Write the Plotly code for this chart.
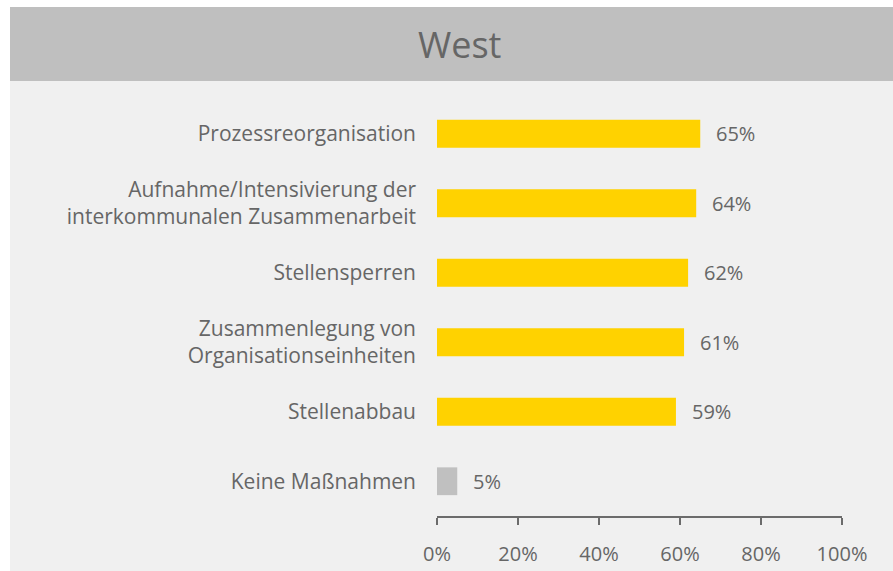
import plotly.graph_objects as go

# Survey results: measures taken (share of municipalities, region West)
categories = [
    "Prozessreorganisation",
    "Aufnahme/Intensivierung der<br>interkommunalen Zusammenarbeit",
    "Stellensperren",
    "Zusammenlegung von<br>Organisationseinheiten",
    "Stellenabbau",
    "Keine Maßnahmen",
]
values = [65, 64, 62, 61, 59, 5]
bar_colors = ["#FFD200", "#FFD200", "#FFD200", "#FFD200", "#FFD200", "#C0C0C0"]
x_ticks = [0, 20, 40, 60, 80, 100]
x_tick_labels = ["0%", "20%", "40%", "60%", "80%", "100%"]
title_text = "West"

W, H = 893, 571
M_L, M_R, M_T, M_B = 437, 51, 99, 55
FONT = "Open Sans"
TEXT = "#666666"

fig = go.Figure(
    go.Bar(
        x=values,
        y=categories,
        orientation="h",
        marker=dict(color=bar_colors, line=dict(width=0)),
        width=0.4,
        hoverinfo="skip",
    )
)

# value labels right of each bar
for c, v in zip(categories, values):
    fig.add_annotation(
        x=v, y=c, xref="x", yref="y",
        text=f"{v}%", showarrow=False,
        xanchor="left", xshift=14,
        font=dict(family=FONT, size=20, color=TEXT),
    )

# panel background and header band (pixel -> paper conversion)
pw, ph = W - M_L - M_R, H - M_T - M_B
px = lambda x: (x - M_L) / pw
py = lambda y: (H - M_B - y) / ph
fig.add_shape(type="rect", xref="paper", yref="paper", layer="below",
              x0=px(10), x1=px(893), y0=py(571), y1=py(81),
              fillcolor="#F0F0F0", line=dict(width=0))
fig.add_shape(type="rect", xref="paper", yref="paper", layer="below",
              x0=px(10), x1=px(893), y0=py(81), y1=py(7),
              fillcolor="#BFBFBF", line=dict(width=0))
fig.add_annotation(
    x=px(459), y=py(45), xref="paper", yref="paper",
    text=title_text, showarrow=False, xanchor="center", yanchor="middle",
    font=dict(family=FONT, size=36, color=TEXT),
)

fig.update_layout(
    width=W, height=H,
    margin=dict(l=M_L, r=M_R, t=M_T, b=M_B, pad=0, autoexpand=False),
    paper_bgcolor="white",
    plot_bgcolor="rgba(0,0,0,0)",
    showlegend=False,
    font=dict(family=FONT, color=TEXT),
    xaxis=dict(
        range=[0, 100], tickvals=x_ticks, ticktext=x_tick_labels,
        showgrid=False, zeroline=False,
        showline=True, linecolor="#6B6B6B", linewidth=2,
        ticks="outside", ticklen=7, tickwidth=2, tickcolor="#6B6B6B",
        tickfont=dict(family=FONT, size=20, color=TEXT),
        ticklabelstandoff=12,
        automargin=False,
        fixedrange=True,
    ),
    yaxis=dict(
        autorange="reversed",
        range=[-0.5, 5.5],
        showgrid=False, zeroline=False, showline=False,
        ticks="", ticklabelstandoff=20,
        tickfont=dict(family=FONT, size=21, color=TEXT),
        automargin=False,
        fixedrange=True,
    ),
)

fig.write_html("out.html")
